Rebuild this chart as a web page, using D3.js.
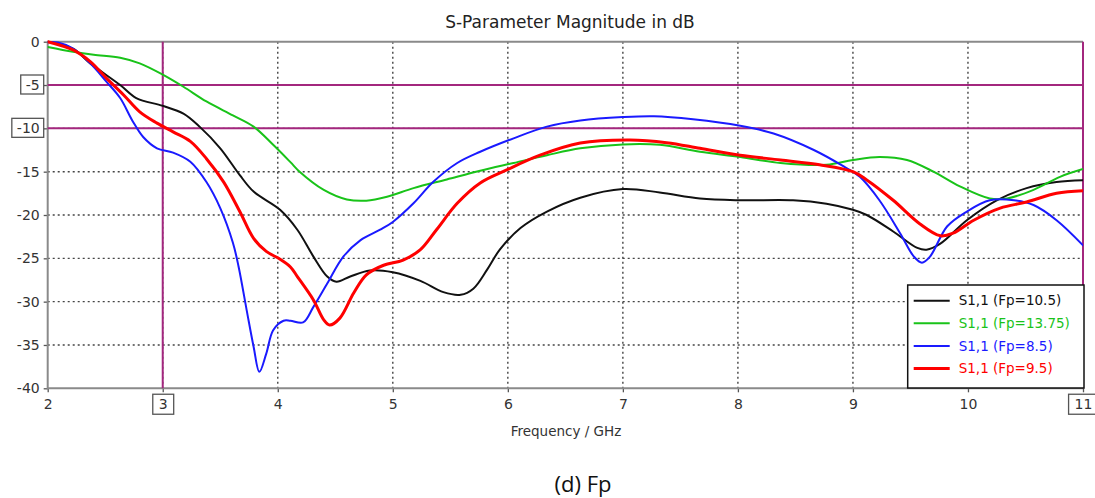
<!DOCTYPE html>
<html><head><meta charset="utf-8">
<script src="https://cdn.jsdelivr.net/npm/d3@7"></script>
<style>html,body{margin:0;padding:0;background:#fff;}svg{display:block;}</style>
</head><body>
<svg id="chart" width="1095" height="498"></svg>
<script>
// ---- data ----
const title = "S-Parameter Magnitude in dB";
const xLabel = "Frequency / GHz";
const caption = "(d) Fp";
const xTicks = [2,3,4,5,6,7,8,9,10,11];
const yTicks = [0,-5,-10,-15,-20,-25,-30,-35,-40];
const markerX = [3, 11];
const markerY = [-5, -10];
const seriesNames = ["S1,1 (Fp=10.5)", "S1,1 (Fp=13.75)", "S1,1 (Fp=8.5)", "S1,1 (Fp=9.5)"];

const fBlack = [2.0,2.22,2.37,2.63,2.77,3.0,3.18,3.32,3.50,3.67,3.79,4.02,4.17,4.31,4.43,4.51,4.63,4.80,5.0,5.24,5.44,5.59,5.70,5.82,5.93,6.11,6.34,6.63,7.0,7.32,7.67,8.02,8.48,8.77,9.0,9.12,9.35,9.56,9.64,9.76,9.99,10.25,10.51,10.77,11.0];
const dbBlack = [0,-0.8,-2.5,-5.0,-6.5,-7.4,-8.3,-9.8,-12.3,-15.4,-17.3,-19.4,-21.7,-24.8,-27.1,-27.7,-27.1,-26.4,-26.6,-27.6,-28.9,-29.2,-28.5,-26.3,-24.0,-21.5,-19.6,-18.0,-17.0,-17.4,-18.1,-18.3,-18.3,-18.7,-19.4,-20.0,-21.9,-23.8,-24.0,-23.3,-20.6,-18.3,-16.9,-16.2,-16.0];

const fGreen = [2.0,2.22,2.40,2.63,2.80,3.0,3.18,3.38,3.61,3.79,3.96,4.11,4.19,4.40,4.60,4.77,4.95,5.18,5.47,5.76,6.05,6.34,6.63,7.0,7.32,7.67,8.02,8.37,8.77,9.0,9.23,9.47,9.70,9.93,10.19,10.34,10.57,10.80,11.0];
const dbGreen = [-0.6,-1.15,-1.5,-1.85,-2.5,-3.8,-5.2,-6.9,-8.5,-9.8,-11.9,-13.9,-15.0,-17.1,-18.2,-18.35,-17.9,-16.9,-15.9,-14.9,-14.0,-13.1,-12.3,-11.85,-11.9,-12.7,-13.3,-14.0,-14.2,-13.65,-13.3,-13.65,-15.0,-16.7,-18.1,-18.1,-17.1,-15.6,-14.7];

const fBlue = [2.0,2.09,2.22,2.37,2.51,2.63,2.74,2.83,2.95,3.09,3.24,3.38,3.50,3.61,3.66,3.73,3.79,3.84,3.90,3.96,4.05,4.11,4.22,4.31,4.43,4.57,4.72,4.89,5.0,5.18,5.35,5.56,5.76,6.05,6.34,6.63,7.0,7.27,7.61,8.02,8.31,8.66,8.92,9.06,9.23,9.41,9.53,9.60,9.67,9.82,9.99,10.19,10.40,10.57,10.77,11.0];
const dbBlue = [-0.05,-0.1,-0.8,-2.5,-4.6,-6.5,-9.2,-11.0,-12.3,-12.8,-13.85,-16.2,-19.2,-23.2,-26.0,-31.0,-35.2,-38.1,-36.0,-33.3,-32.2,-32.2,-32.4,-30.6,-27.9,-24.8,-22.9,-21.7,-20.8,-18.65,-16.2,-14.0,-12.7,-11.15,-9.8,-9.1,-8.7,-8.6,-8.95,-9.7,-10.6,-12.5,-14.4,-15.6,-18.3,-22.1,-24.8,-25.5,-24.8,-21.3,-19.6,-18.3,-18.3,-18.85,-20.6,-23.5];

const fRed = [2.0,2.22,2.37,2.51,2.66,2.80,2.95,3.09,3.24,3.38,3.53,3.67,3.79,3.90,4.02,4.11,4.17,4.31,4.40,4.45,4.54,4.66,4.77,4.92,5.09,5.24,5.38,5.56,5.76,5.99,6.28,6.63,7.06,7.38,7.67,8.02,8.37,8.71,9.0,9.12,9.35,9.58,9.76,9.87,10.05,10.28,10.51,10.77,11.0];
const dbRed = [0,-0.95,-2.3,-4.2,-6.15,-8.1,-9.4,-10.4,-11.5,-13.5,-16.2,-19.6,-22.7,-24.2,-25.1,-26.0,-27.1,-29.8,-32.1,-32.7,-31.9,-29.0,-26.9,-25.8,-25.2,-24.0,-21.7,-18.65,-16.3,-14.8,-13.1,-11.7,-11.35,-11.65,-12.3,-13.1,-13.65,-14.2,-15.0,-15.95,-18.3,-21.0,-22.4,-22.1,-20.6,-19.2,-18.5,-17.5,-17.2];

const seriesF = [fBlack, fGreen, fBlue, fRed];
const seriesDb = [dbBlack, dbGreen, dbBlue, dbRed];
const seriesColors = ["#111111", "#19c319", "#1a1aff", "#ff0000"];
const seriesWidths = [2, 2, 2, 3];

// ---- layout ----
const svg = d3.select("#chart");
const L = 47.7, R = 1083, T = 41.7, B = 388.3;
const x = d3.scaleLinear().domain([2, 11]).range([L, R]);
const y = d3.scaleLinear().domain([-40, 0]).range([B, T]);
const magenta = "#a3277e";
const axisGrey = "#8a8a8a";
const txt = "#333";
const font = "DejaVu Sans, Verdana, sans-serif";

// grid
const gGrid = svg.append("g");
gGrid.selectAll("line.v").data(xTicks.filter(t => t > 2 && t < 11)).join("line")
  .attr("x1", d => x(d)).attr("x2", d => x(d)).attr("y1", T).attr("y2", B)
  .attr("stroke", "#444").attr("stroke-width", 1.4).attr("stroke-dasharray", "2,3");
gGrid.selectAll("line.h").data(yTicks.filter(t => t < 0 && t > -40)).join("line")
  .attr("x1", L).attr("x2", R).attr("y1", d => y(d)).attr("y2", d => y(d))
  .attr("stroke", "#444").attr("stroke-width", 1.4).attr("stroke-dasharray", "2,3");

// axes via d3 axis
const yAxis = d3.axisLeft(y).tickValues(yTicks).tickSize(4).tickPadding(4).tickFormat(d => d === 0 ? "0" : String(d));
const xAxis = d3.axisBottom(x).tickValues(xTicks).tickSize(4).tickPadding(7).tickFormat(d => String(d));
const gy = svg.append("g").attr("transform", `translate(${L},0)`).call(yAxis);
const gx = svg.append("g").attr("transform", `translate(0,${B})`).call(xAxis);
[gx, gy].forEach(g => {
  g.select(".domain").remove();
  g.selectAll(".tick line").attr("stroke", "#555").attr("stroke-width", 1.3);
  g.selectAll(".tick text").attr("fill", txt).style("font-family", font).style("font-size", "14px");
});

// frame lines
svg.append("line").attr("x1", L).attr("x2", R).attr("y1", T).attr("y2", T).attr("stroke", axisGrey).attr("stroke-width", 2);
svg.append("line").attr("x1", L).attr("x2", R).attr("y1", B).attr("y2", B).attr("stroke", axisGrey).attr("stroke-width", 2);
svg.append("line").attr("x1", L).attr("x2", L).attr("y1", T).attr("y2", B + 1).attr("stroke", axisGrey).attr("stroke-width", 2);

// marker lines
svg.append("g").selectAll("line").data(markerY).join("line")
  .attr("x1", L).attr("x2", R).attr("y1", d => y(d)).attr("y2", d => y(d))
  .attr("stroke", magenta).attr("stroke-width", 2);
svg.append("g").selectAll("line").data(markerX).join("line")
  .attr("x1", d => x(d)).attr("x2", d => x(d)).attr("y1", T).attr("y2", B)
  .attr("stroke", magenta).attr("stroke-width", 2);

// boxes around marker tick labels
gy.selectAll(".tick").filter(d => markerY.includes(d)).each(function() {
  const t = d3.select(this).select("text");
  const bb = t.node().getBBox();
  d3.select(this).insert("rect", "text")
    .attr("x", bb.x - 5).attr("y", bb.y - 2).attr("width", bb.width + 9).attr("height", bb.height + 3)
    .attr("fill", "#fff").attr("stroke", "#555").attr("stroke-width", 1.3);
});
gx.selectAll(".tick").filter(d => markerX.includes(d)).each(function() {
  const t = d3.select(this).select("text");
  const bb = t.node().getBBox();
  d3.select(this).insert("rect", "text")
    .attr("x", bb.x - 6).attr("y", bb.y - 2).attr("width", bb.width + 12).attr("height", bb.height + 4)
    .attr("fill", "#fff").attr("stroke", "#555").attr("stroke-width", 1.3);
});

// curves
const line = d3.line().x(d => x(d[0])).y(d => y(d[1])).curve(d3.curveCatmullRom.alpha(0.5));
svg.append("clipPath").attr("id", "clip").append("rect")
  .attr("x", L).attr("y", T - 2).attr("width", R - L).attr("height", B - T + 2);
const gLines = svg.append("g").attr("clip-path", "url(#clip)");
seriesF.forEach((fs, i) => {
  const pts = fs.map((f, j) => [f, seriesDb[i][j]]);
  gLines.append("path").attr("d", line(pts)).attr("fill", "none")
    .attr("stroke", seriesColors[i]).attr("stroke-width", seriesWidths[i])
    .attr("stroke-linejoin", "round").attr("stroke-linecap", "round");
});

// legend
const lg = svg.append("g");
const lx = 907.7, ly = 285, lw = 176.3, lh = 103;
lg.append("rect").attr("x", lx).attr("y", ly).attr("width", lw).attr("height", lh)
  .attr("fill", "#fff").attr("stroke", "#111").attr("stroke-width", 1.5);
seriesNames.forEach((n, i) => {
  const yy = ly + 15.7 + i * 22.6;
  lg.append("line").attr("x1", lx + 6).attr("x2", lx + 42).attr("y1", yy).attr("y2", yy)
    .attr("stroke", seriesColors[i]).attr("stroke-width", seriesWidths[i]);
  lg.append("text").attr("x", lx + 51).attr("y", yy).attr("dy", "0.35em")
    .attr("fill", seriesColors[i]).style("font-family", font).style("font-size", "13.5px").text(n);
});

// texts
svg.append("text").attr("x", 570).attr("y", 28).attr("text-anchor", "middle").attr("fill", "#222")
  .style("font-family", font).style("font-size", "17px").text(title);
svg.append("text").attr("x", 566).attr("y", 436).attr("text-anchor", "middle").attr("fill", txt)
  .style("font-family", font).style("font-size", "13.5px").text(xLabel);
svg.append("text").attr("x", 583).attr("y", 492).attr("text-anchor", "middle").attr("fill", "#111")
  .style("font-family", "Open Sans, sans-serif").style("font-size", "22px").text(caption);
</script>
</body></html>
